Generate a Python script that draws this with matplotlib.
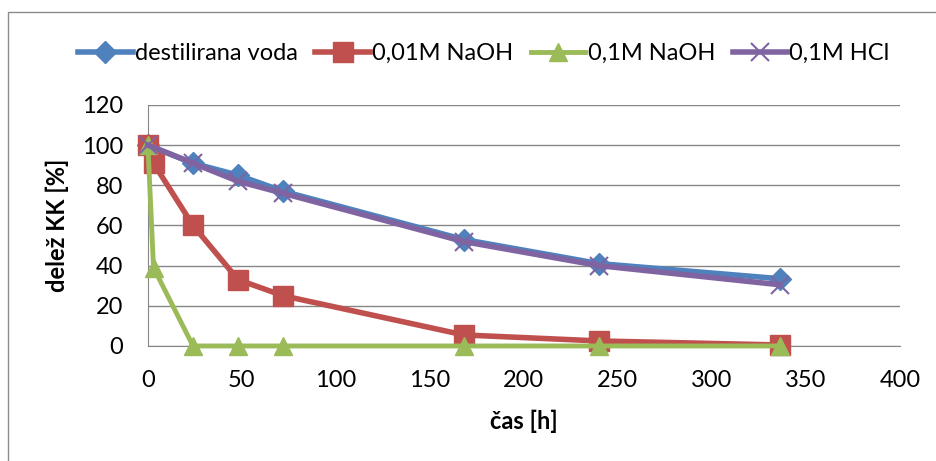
import matplotlib.pyplot as plt
from matplotlib.patches import Rectangle

plt.rcParams['font.family'] = ['Lato', 'DejaVu Sans']

# time points [h]
t_water = [0, 24, 48, 72, 168, 240, 336]
t_base = [0, 3, 24, 48, 72, 168, 240, 336]

# share of KK [%]
water = [100, 91, 85, 77, 53, 41, 33.5]
naoh_001 = [100, 91, 60, 33, 25, 5.5, 2.5, 0.5]
naoh_01 = [100, 39, 0, 0, 0, 0, 0, 0]
hcl_01 = [100, 91, 82, 76, 52, 40, 30.5]

fig = plt.figure(figsize=(9.36, 4.61), dpi=100)
ax = fig.add_axes([0.158, 0.2495, 0.8035, 0.5228])

# outer chart frame
fig.patches.append(Rectangle((8 / 936, -0.1), 1.1, (461 - 12) / 461 + 0.1,
                             transform=fig.transFigure, fill=False,
                             edgecolor='#8c8c8c', lw=1.0))

lw = 4
ax.plot(t_water, water, color='#4F81BD', lw=lw, marker='D', ms=11,
        label='destilirana voda', clip_on=False, zorder=3)
ax.plot(t_base, naoh_001, color='#C0504D', lw=lw, marker='s', ms=14,
        label='0,01M NaOH', clip_on=False, zorder=3)
ax.plot(t_base, naoh_01, color='#9BBB59', lw=3.5, marker='^', ms=13,
        label='0,1M NaOH', clip_on=False, zorder=4)
ax.plot(t_water, hcl_01, color='#8064A2', lw=lw, marker='x', ms=13, mew=1.5,
        label='0,1M HCl', clip_on=False, zorder=5)

ax.set_xlim(0, 400)
ax.set_ylim(0, 120)
ax.set_xticks(range(0, 401, 50))
ax.set_yticks(range(0, 121, 20))
ax.grid(axis='y', color='#868686', lw=1.0)
ax.set_axisbelow(True)
for s in ['top', 'right']:
    ax.spines[s].set_visible(False)
for s in ['left', 'bottom']:
    ax.spines[s].set_color('#868686')
ax.tick_params(length=0, labelsize=17)
ax.tick_params(axis='x', pad=17)
ax.tick_params(axis='y', pad=18)

ax.set_xlabel('čas [h]', fontsize=17, fontweight='bold', labelpad=14)
ax.set_ylabel('delež KK [%]', fontsize=17, fontweight='bold', labelpad=9)

fig.legend(loc='center', bbox_to_anchor=(0.517, 0.884), ncol=4, frameon=False,
           fontsize=17, handlelength=2.3, handletextpad=0.1, columnspacing=0.75)

fig.savefig('out.png', dpi=100)
